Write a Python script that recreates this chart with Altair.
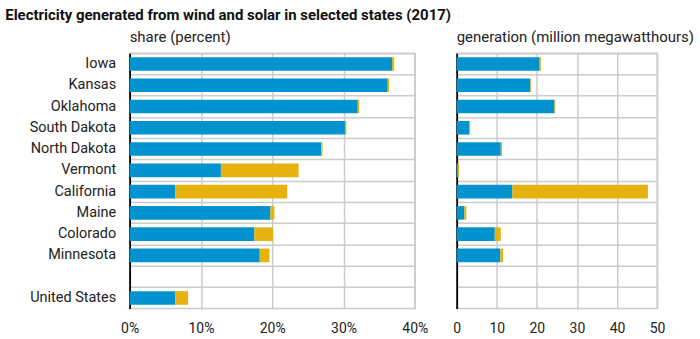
import altair as alt
import pandas as pd

states = ["Iowa", "Kansas", "Oklahoma", "South Dakota", "North Dakota", "Vermont",
          "California", "Maine", "Colorado", "Minnesota", " ", "United States"]
share_wind = [36.8, 36.2, 32.0, 30.2, 26.9, 12.8, 6.4, 19.75, 17.5, 18.25, None, 6.4]
share_solar = [0.3, 0.2, 0.2, 0.2, 0.15, 10.9, 15.7, 0.55, 2.6, 1.35, None, 1.8]
gen_wind = [20.7, 18.4, 24.4, 3.1, 11.0, 0.15, 13.9, 1.9, 9.5, 10.9, None, None]
gen_solar = [0.3, 0.2, 0.2, 0.3, 0.3, 0.4, 33.8, 0.5, 1.5, 0.7, None, None]

sources = ["wind", "solar"]
colors = ["#0093d0", "#e5b20f"]


def long_df(wind, solar):
    rows = []
    for s, w, so in zip(states, wind, solar):
        if w is not None:
            rows.append({"state": s, "source": "wind", "order": 0, "value": w})
        if so is not None:
            rows.append({"state": s, "source": "solar", "order": 1, "value": so})
    return pd.DataFrame(rows)


share_df = long_df(share_wind, share_solar)
gen_df = long_df(gen_wind, gen_solar)

FONT = "Roboto"
GRID = "#cccccc"

color_enc = alt.Color("source:N", scale=alt.Scale(domain=sources, range=colors), legend=None)


def panel(df, xmax, xvals, label_expr, title, width, show_labels):
    y_axis = alt.Axis(
        title=None, ticks=False, labels=show_labels, domain=True, domainColor="black",
        domainWidth=1.8, grid=True, gridColor=GRID, gridWidth=1.5, bandPosition=0,
        labelFontSize=14.5, labelColor="#222222", labelFont=FONT,
        labelPadding=14, minExtent=124 if show_labels else 0,
        maxExtent=124 if show_labels else 0,
    )
    x_axis = alt.Axis(
        title=None, values=xvals, labelExpr=label_expr, ticks=False, domain=False,
        grid=True, gridColor=GRID, gridWidth=1.5, labelFontSize=14, labelColor="#222222",
        labelFont=FONT, labelPadding=13, labelFlush=False,
    )
    return alt.Chart(df).mark_bar(height={"band": 0.64}).encode(
        y=alt.Y("state:N", sort=states,
                scale=alt.Scale(domain=states, paddingInner=0, paddingOuter=0),
                axis=y_axis),
        x=alt.X("value:Q", stack="zero",
                scale=alt.Scale(domain=[0, xmax], nice=False), axis=x_axis),
        color=color_enc,
        order=alt.Order("order:Q"),
    ).properties(
        width=width, height=256,
        title=alt.TitleParams(title, anchor="start", frame="group", fontSize=15,
                              fontWeight="normal", font=FONT, color="#222222", offset=8),
    )


left = panel(share_df, 40, [0, 10, 20, 30, 40], "datum.value + '%'", "share (percent)", 286, True)
right = panel(gen_df, 50, [0, 10, 20, 30, 40, 50], "datum.value", "generation (million megawatthours)", 201, False)

chart = alt.hconcat(left, right, spacing=42, bounds="flush").properties(
    title=alt.TitleParams("Electricity generated from wind and solar in selected states (2017)",
                          anchor="start", fontSize=15, fontWeight="bold", font=FONT,
                          color="#111111", offset=7),
    padding={"left": 5, "top": 7, "right": 5, "bottom": 5},
).configure_view(stroke=GRID, strokeWidth=1.5)

chart.save("out.html", embed_options={"renderer": "svg", "actions": False})
